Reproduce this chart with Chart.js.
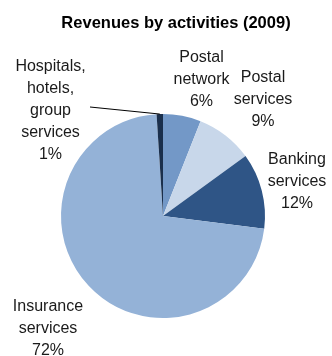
<!DOCTYPE html>
<html>
<head>
<meta charset="utf-8">
<title>Revenues by activities (2009)</title>
<script src="https://cdn.jsdelivr.net/npm/chart.js@4/dist/chart.umd.min.js"></script>
<style>
  html, body { margin: 0; padding: 0; background: #fff; }
  #wrap { width: 332px; height: 356px; }
</style>
</head>
<body>
<div id="wrap"><canvas id="revChart" width="332" height="356"></canvas></div>
<script>
// Revenue share per activity, clockwise from 12 o'clock
const activities = [
  ['Postal', 'network'],
  ['Postal', 'services'],
  ['Banking', 'services'],
  ['Insurance', 'services'],
  ['Hospitals,', 'hotels,', 'group', 'services']
];
const shares = [6, 9, 12, 72, 1];
const sliceColors = ['#7398c7', '#c8d7ea', '#2f5586', '#94b2d7', '#1a2f4c'];

// where each label block sits, relative to the pie centre (middle line baseline)
const labelOffsets = [
  [38.5, -132],
  [100, -112],
  [134, -30],
  [-115, 117],
  [-112.5, -101]
];
const lineGap = 22;

// title + outside labels drawn by hand, Excel style
const pieLabels = {
  id: 'pieLabels',
  afterDraw(chart) {
    const ctx = chart.ctx;
    const meta = chart.getDatasetMeta(0);
    const arc0 = meta.data[0];
    const cx = arc0.x, cy = arc0.y;

    ctx.save();
    ctx.fillStyle = '#000';
    ctx.textAlign = 'center';
    ctx.textBaseline = 'alphabetic';
    ctx.font = 'bold 16.5px "Liberation Sans", Arial, sans-serif';
    ctx.fillText('Revenues by activities (2009)', 176, 28);

    ctx.font = '16px "Liberation Sans", Arial, sans-serif';
    ctx.fillStyle = '#1a1a1a';
    activities.forEach((lines, i) => {
      const all = lines.concat([shares[i] + '%']);
      const x = cx + labelOffsets[i][0];
      const mid = (all.length - 1) / 2;
      all.forEach((txt, j) => {
        ctx.fillText(txt, x, cy + labelOffsets[i][1] + (j - mid) * lineGap);
      });
    });

    // leader line for the tiny slice
    const small = meta.data[4];
    const ang = (small.startAngle + small.endAngle) / 2;
    ctx.strokeStyle = '#000';
    ctx.lineWidth = 1;
    ctx.beginPath();
    ctx.moveTo(cx - 73, cy - 109);
    ctx.lineTo(cx + Math.cos(ang) * small.outerRadius, cy + Math.sin(ang) * small.outerRadius);
    ctx.stroke();
    ctx.restore();
  }
};

const ctx = document.getElementById('revChart').getContext('2d');
new Chart(ctx, {
  type: 'pie',
  data: {
    labels: activities.map(l => l.join(' ')),
    datasets: [{
      data: shares,
      backgroundColor: sliceColors,
      borderWidth: 0
    }]
  },
  options: {
    responsive: false,
    animation: false,
    devicePixelRatio: 1,
    layout: { padding: { top: 114, bottom: 38, left: 61, right: 67 } },
    plugins: {
      legend: { display: false },
      tooltip: { enabled: false },
      title: { display: false }
    }
  },
  plugins: [pieLabels]
});
</script>
</body>
</html>
